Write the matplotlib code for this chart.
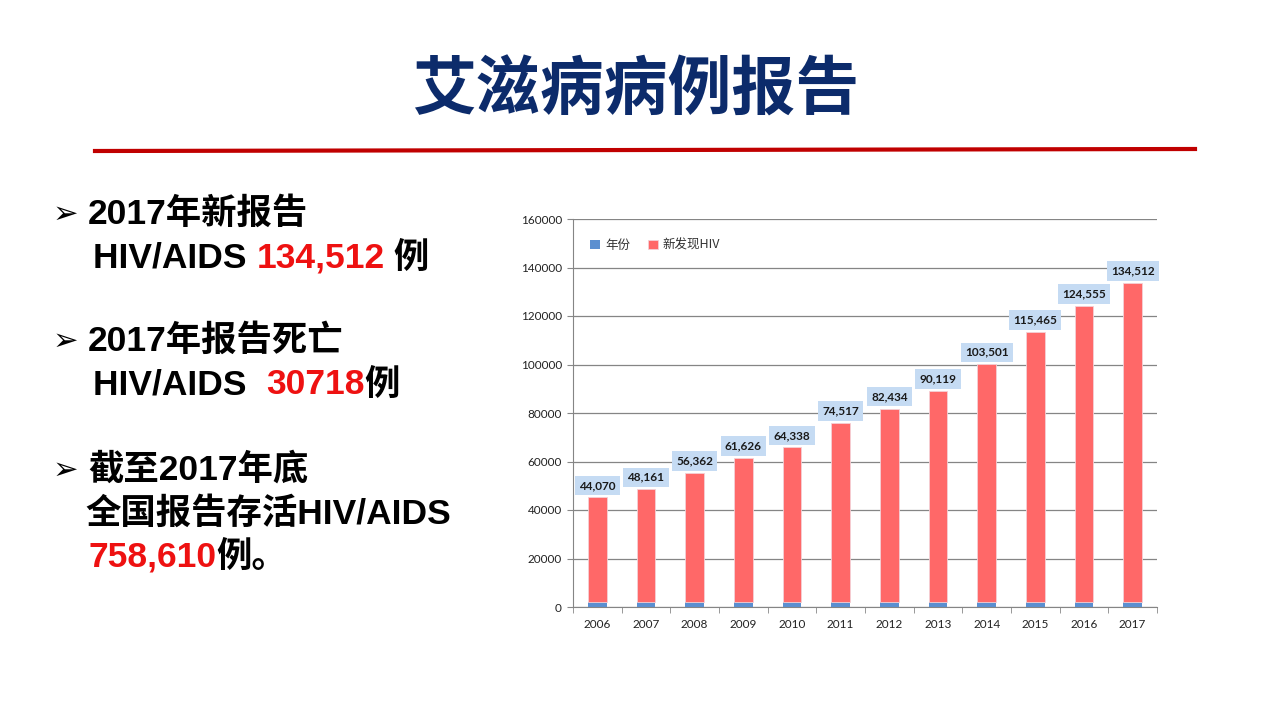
import matplotlib.pyplot as plt
from matplotlib.ticker import FixedLocator

years = ["2006", "2007", "2008", "2009", "2010", "2011",
         "2012", "2013", "2014", "2015", "2016", "2017"]
year_values = [2006, 2007, 2008, 2009, 2010, 2011,
               2012, 2013, 2014, 2015, 2016, 2017]
# red bar heights as drawn in the chart
new_hiv = [43200, 46700, 53400, 59500, 63800, 74000,
           79800, 87200, 98200, 111500, 122200, 131700]
# the data labels printed above the bars
hiv_labels = ["44,070", "48,161", "56,362", "61,626", "64,338", "74,517",
              "82,434", "90,119", "103,501", "115,465", "124,555", "134,512"]
yticks = [0, 20000, 40000, 60000, 80000, 100000, 120000, 140000, 160000]

title = "艾滋病病例报告"
# each line: list of (text, colour) segments, x, y in pixels, bullet or not
lines = [
    ([("2017年新报告", "black")], 88, 214, True),
    ([("HIV/AIDS ", "black"), ("134,512", "#ee1111"), (" 例", "black")], 93, 258, False),
    ([("2017年报告死亡", "black")], 88, 341, True),
    ([("HIV/AIDS  ", "black"), ("30718", "#ee1111"), ("例", "black")], 93, 385, False),
    ([("截至2017年底", "black")], 88, 470, True),
    ([("全国报告存活HIV/AIDS", "black")], 85, 514, False),
    ([("758,610", "#ee1111"), ("例。", "black")], 88, 557, False),
]

W, H = 1280, 720
fig = plt.figure(figsize=(12.8, 7.2), dpi=100)
fig.patch.set_facecolor("white")

txt_font = ["Liberation Sans", "Noto Sans CJK SC", "DejaVu Sans"]
cjk_font = ["Noto Sans CJK SC", "DejaVu Sans"]
lab_font = ["Lato", "DejaVu Sans"]

fig.text(636 / W, 1 - 91 / H, title, ha="center", va="center",
         fontsize=46, fontweight="heavy", color="#0c2b6b", family=cjk_font)
fig.add_artist(plt.Line2D([95 / W, 1195 / W], [1 - 151 / H, 1 - 149 / H],
                          color="#c00000", lw=3))

renderer = fig.canvas.get_renderer()
for segs, x0, y0, arrow in lines:
    if arrow:
        fig.text(53 / W, 1 - y0 / H, "➢", ha="left", va="center",
                 fontsize=22, fontweight="bold", color="black",
                 family=["DejaVu Sans"])
    x = x0
    for s, c in segs:
        t = fig.text(x / W, 1 - y0 / H, s, ha="left", va="center",
                     fontsize=25.5, fontweight="bold", color=c, family=txt_font)
        x += t.get_window_extent(renderer).width

ax = fig.add_axes([573 / W, 113 / H, 584 / W, 388 / H])
xs = range(len(years))
ax.bar(xs, year_values, width=0.39, color="#5b8fd0", label="年份", zorder=3)
ax.bar(xs, new_hiv, width=0.39, bottom=year_values, color="#ff6868",
       edgecolor="#f4d0d6", linewidth=0.6, label="新发现HIV", zorder=3)

for i, v in enumerate(new_hiv):
    ax.annotate(hiv_labels[i], (i, year_values[i] + v), xytext=(0, 4.5),
                textcoords="offset points", ha="center", va="bottom",
                fontsize=8.5, fontweight="bold", color="#1a1a1a",
                family=lab_font,
                bbox=dict(boxstyle="square,pad=0.35", fc="#c5dbf3", ec="none"),
                zorder=4)

ax.set_xlim(-0.5, len(years) - 0.5)
ax.set_ylim(0, 160000)
ax.set_yticks(yticks)
ax.set_yticklabels([str(v) for v in yticks])
ax.set_xticks(list(xs))
ax.set_xticklabels(years)
ax.xaxis.set_minor_locator(FixedLocator([i - 0.5 for i in range(len(years) + 1)]))
ax.tick_params(axis="x", which="major", length=0, pad=9)
ax.tick_params(axis="x", which="minor", length=4, color="#888888")
ax.tick_params(axis="y", length=4, color="#888888", pad=4)
ax.tick_params(labelsize=8.5, labelcolor="#222222")
for lab in ax.get_xticklabels() + ax.get_yticklabels():
    lab.set_family(lab_font)

ax.grid(axis="y", color="#858585", linewidth=0.9, zorder=0)
for side in ["top", "right"]:
    ax.spines[side].set_visible(False)
ax.spines["left"].set_color("#858585")
ax.spines["bottom"].set_color("#858585")

leg = ax.legend(loc="upper left", bbox_to_anchor=(0.01, 0.978), ncol=2,
                frameon=False, handlelength=0.8, handleheight=0.8,
                columnspacing=1.4, handletextpad=0.4,
                prop={"family": cjk_font, "size": 9})
for t in leg.get_texts():
    t.set_color("#333333")

fig.savefig("out.png", dpi=100, facecolor="white")
